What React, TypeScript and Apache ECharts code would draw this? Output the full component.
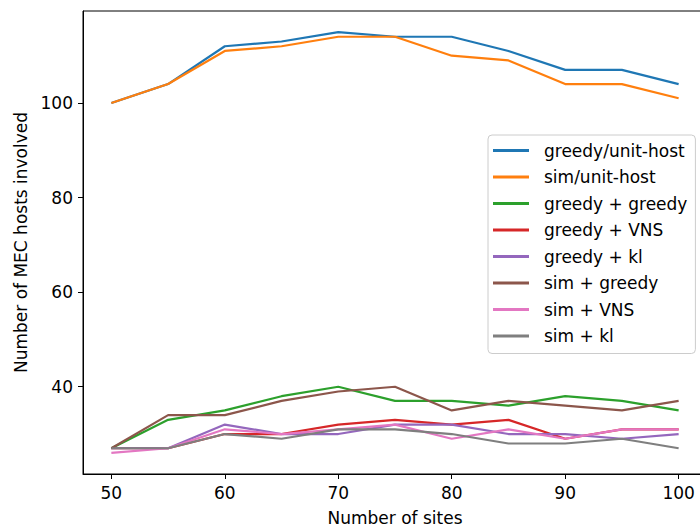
import React, { useEffect, useRef } from "react";
import * as echarts from "echarts";

const sites = [50, 55, 60, 65, 70, 75, 80, 85, 90, 95, 100];
const greedyUnitHost = [100, 104, 112, 113, 115, 114, 114, 111, 107, 107, 104];
const simUnitHost = [100, 104, 111, 112, 114, 114, 110, 109, 104, 104, 101];
const greedyGreedy = [27, 33, 35, 38, 40, 37, 37, 36, 38, 37, 35];
const greedyVNS = [27, 27, 30, 30, 32, 33, 32, 33, 29, 31, 31];
const greedyKl = [27, 27, 32, 30, 30, 32, 32, 30, 30, 29, 30];
const simGreedy = [27, 34, 34, 37, 39, 40, 35, 37, 36, 35, 37];
const simVNS = [26, 27, 31, 30, 31, 32, 29, 31, 29, 31, 31];
const simKl = [27, 27, 30, 29, 31, 31, 30, 28, 28, 29, 27];

const seriesNames = [
  "greedy/unit-host",
  "sim/unit-host",
  "greedy + greedy",
  "greedy + VNS",
  "greedy + kl",
  "sim + greedy",
  "sim + VNS",
  "sim + kl",
];
const seriesValues = [greedyUnitHost, simUnitHost, greedyGreedy, greedyVNS, greedyKl, simGreedy, simVNS, simKl];
const colors = ["#1f77b4", "#ff7f0e", "#2ca02c", "#d62728", "#9467bd", "#8c564b", "#e377c2", "#7f7f7f"];
const xTicks = [50, 60, 70, 80, 90, 100];
const yTicks = [40, 60, 80, 100];

const FONT = "DejaVu Sans";
const FS = 17;

export default function App() {
  const ref = useRef<HTMLDivElement>(null);
  useEffect(() => {
    if (!ref.current) return;
    const chart = echarts.init(ref.current, null, { renderer: "svg" });
    chart.setOption({
      animation: false,
      backgroundColor: "#ffffff",
      grid: {
        left: 83,
        top: 11,
        width: 624,
        height: 463,
        outerBoundsMode: "none",
        containLabel: false,
        show: true,
        borderColor: "#000",
        borderWidth: 1,
        backgroundColor: "transparent",
      },
      xAxis: {
        type: "value",
        min: 47.5,
        max: 102.5,
        splitLine: { show: false },
        axisLine: { show: true, onZero: false, lineStyle: { color: "#000", width: 1 } },
        axisTick: { show: true, customValues: xTicks, length: 5, lineStyle: { color: "#000" } },
        axisLabel: { customValues: xTicks, margin: 10, color: "#000", fontSize: FS, fontFamily: FONT },
        name: "Number of sites",
        nameLocation: "middle",
        nameGap: 35,
        nameTextStyle: { color: "#000", fontSize: FS, fontFamily: FONT },
      },
      yAxis: {
        type: "value",
        min: 21.55,
        max: 119.45,
        splitLine: { show: false },
        axisLine: { show: true, onZero: false, lineStyle: { color: "#000", width: 1 } },
        axisTick: { show: true, customValues: yTicks, length: 5, lineStyle: { color: "#000" } },
        axisLabel: { customValues: yTicks, margin: 10, color: "#000", fontSize: FS, fontFamily: FONT },
        name: "Number of MEC hosts involved",
        nameLocation: "middle",
        nameGap: 54,
        nameTextStyle: { color: "#000", fontSize: FS, fontFamily: FONT },
      },
      legend: {
        orient: "vertical",
        left: 488,
        top: 135,
        padding: [6, 8, 8, 5],
        backgroundColor: "rgba(255,255,255,0.8)",
        borderColor: "#cccccc",
        borderWidth: 1,
        borderRadius: 4,
        itemWidth: 36,
        itemHeight: 3,
        itemGap: 7.5,
        icon: "rect",
        textStyle: { color: "#000", fontSize: FS, fontFamily: FONT, lineHeight: 19, padding: [0, 0, 0, 10] },
        data: seriesNames,
      },
      series: seriesNames.map((name, i) => ({
        name,
        type: "line",
        data: sites.map((s, j) => [s, seriesValues[i][j]]),
        showSymbol: false,
        symbol: "none",
        lineStyle: { color: colors[i], width: 2.2 },
        itemStyle: { color: colors[i] },
      })),
    });
    return () => chart.dispose();
  }, []);
  return <div ref={ref} style={{ width: 700, height: 530, position: "absolute", left: 0, top: 0 }} />;
}
